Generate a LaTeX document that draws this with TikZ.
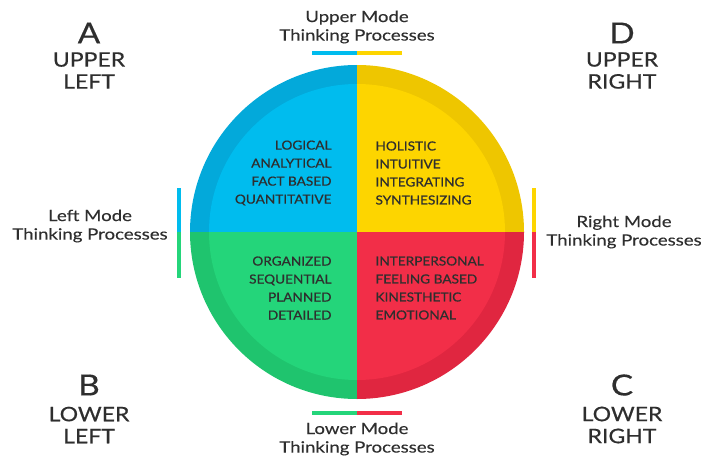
\documentclass[tikz,border=0pt]{standalone}
\usepackage{fontspec}
\setmainfont{Lato}
\newfontfamily\medfont[FakeBold=0.5,FakeStretch=1.15]{Lato}
\newfontfamily\quadfont[FakeBold=0.6,FakeStretch=1.09]{Lato}
\newfontfamily\modefont[FakeBold=0.2,FakeStretch=1.2]{Lato}
\definecolor{blueIn}{HTML}{00BCEE}
\definecolor{blueOut}{HTML}{03A9DA}
\definecolor{yelIn}{HTML}{FDD500}
\definecolor{yelOut}{HTML}{EEC600}
\definecolor{greIn}{HTML}{24D57A}
\definecolor{greOut}{HTML}{1FC46E}
\definecolor{redIn}{HTML}{F22E48}
\definecolor{redOut}{HTML}{E02640}
\definecolor{txt}{HTML}{2E2E2E}
\begin{document}
\begin{tikzpicture}[x=1pt,y=-1pt,
  corner/.style={text=txt,align=center,font=\medfont\fontsize{20}{22}\selectfont},
  bigletter/.style={text=txt,font=\medfont\fontsize{29}{30}\selectfont},
  modelbl/.style={text=txt,align=center,font=\modefont\fontsize{15.5}{18.5}\selectfont},
  quadL/.style={text=txt,align=right,anchor=east,font=\quadfont\fontsize{12.5}{18}\selectfont},
  quadR/.style={text=txt,align=left,anchor=west,font=\quadfont\fontsize{12.5}{18}\selectfont},
  bar/.style={line width=4pt}]
\useasboundingbox (0,0) rectangle (708,457);
% outer ring
\begin{scope}
\clip (357,232) circle (167);
\fill[blueOut] (357,232) rectangle (180,60);
\fill[yelOut] (357,232) rectangle (530,60);
\fill[greOut] (357,232) rectangle (180,405);
\fill[redOut] (357,232) rectangle (530,405);
\end{scope}
% inner disc
\begin{scope}
\clip (357,232) circle (148);
\fill[blueIn] (357,232) rectangle (180,60);
\fill[yelIn] (357,232) rectangle (530,60);
\fill[greIn] (357,232) rectangle (180,405);
\fill[redIn] (357,232) rectangle (530,405);
\end{scope}
% corner labels
\node[bigletter] (A) at (89,33) {A};
\node[corner] (ul) at (89,70.5) {UPPER\\LEFT};
\node[bigletter] (D) at (622,33) {D};
\node[corner] (ur) at (622,70.5) {UPPER\\RIGHT};
\node[bigletter] (B) at (89,385) {B};
\node[corner] (ll) at (89,425) {LOWER\\LEFT};
\node[bigletter] (C) at (622,385) {C};
\node[corner] (lr) at (622,425) {LOWER\\RIGHT};
% mode labels
\node[modelbl] (um) at (357,27) {Upper Mode\\Thinking Processes};
\node[modelbl] (lm) at (90,226) {Left Mode\\Thinking Processes};
\node[modelbl] (rm) at (624,232) {Right Mode\\Thinking Processes};
\node[modelbl] (lo) at (357,439) {Lower Mode\\Thinking Processes};
% bars
\coordinate (ub1) at (312,53); \coordinate (ub2) at (357,53); \coordinate (ub3) at (402,53);
\draw[bar,blueIn] (ub1) -- (ub2);
\draw[bar,yelIn] (ub2) -- (ub3);
\coordinate (bb1) at (312,413); \coordinate (bb2) at (357,413); \coordinate (bb3) at (402,413);
\draw[bar,greIn] (bb1) -- (bb2);
\draw[bar,redIn] (bb2) -- (bb3);
\coordinate (lb1) at (179,188); \coordinate (lb2) at (179,232); \coordinate (lb3) at (179,278);
\draw[bar,blueIn] (lb1) -- (lb2);
\draw[bar,greIn] (lb2) -- (lb3);
\coordinate (rb1) at (534,188); \coordinate (rb2) at (534,232); \coordinate (rb3) at (534,278);
\draw[bar,yelIn] (rb1) -- (rb2);
\draw[bar,redIn] (rb2) -- (rb3);
% quadrant text
\node[quadL] (q1) at (335,173) {LOGICAL\\ANALYTICAL\\FACT BASED\\QUANTITATIVE};
\node[quadR] (q2) at (372,173) {HOLISTIC\\INTUITIVE\\INTEGRATING\\SYNTHESIZING};
\node[quadL] (q3) at (335,288) {ORGANIZED\\SEQUENTIAL\\PLANNED\\DETAILED};
\node[quadR] (q4) at (372,288) {INTERPERSONAL\\FEELING BASED\\KINESTHETIC\\EMOTIONAL};
\end{tikzpicture}
\end{document}
